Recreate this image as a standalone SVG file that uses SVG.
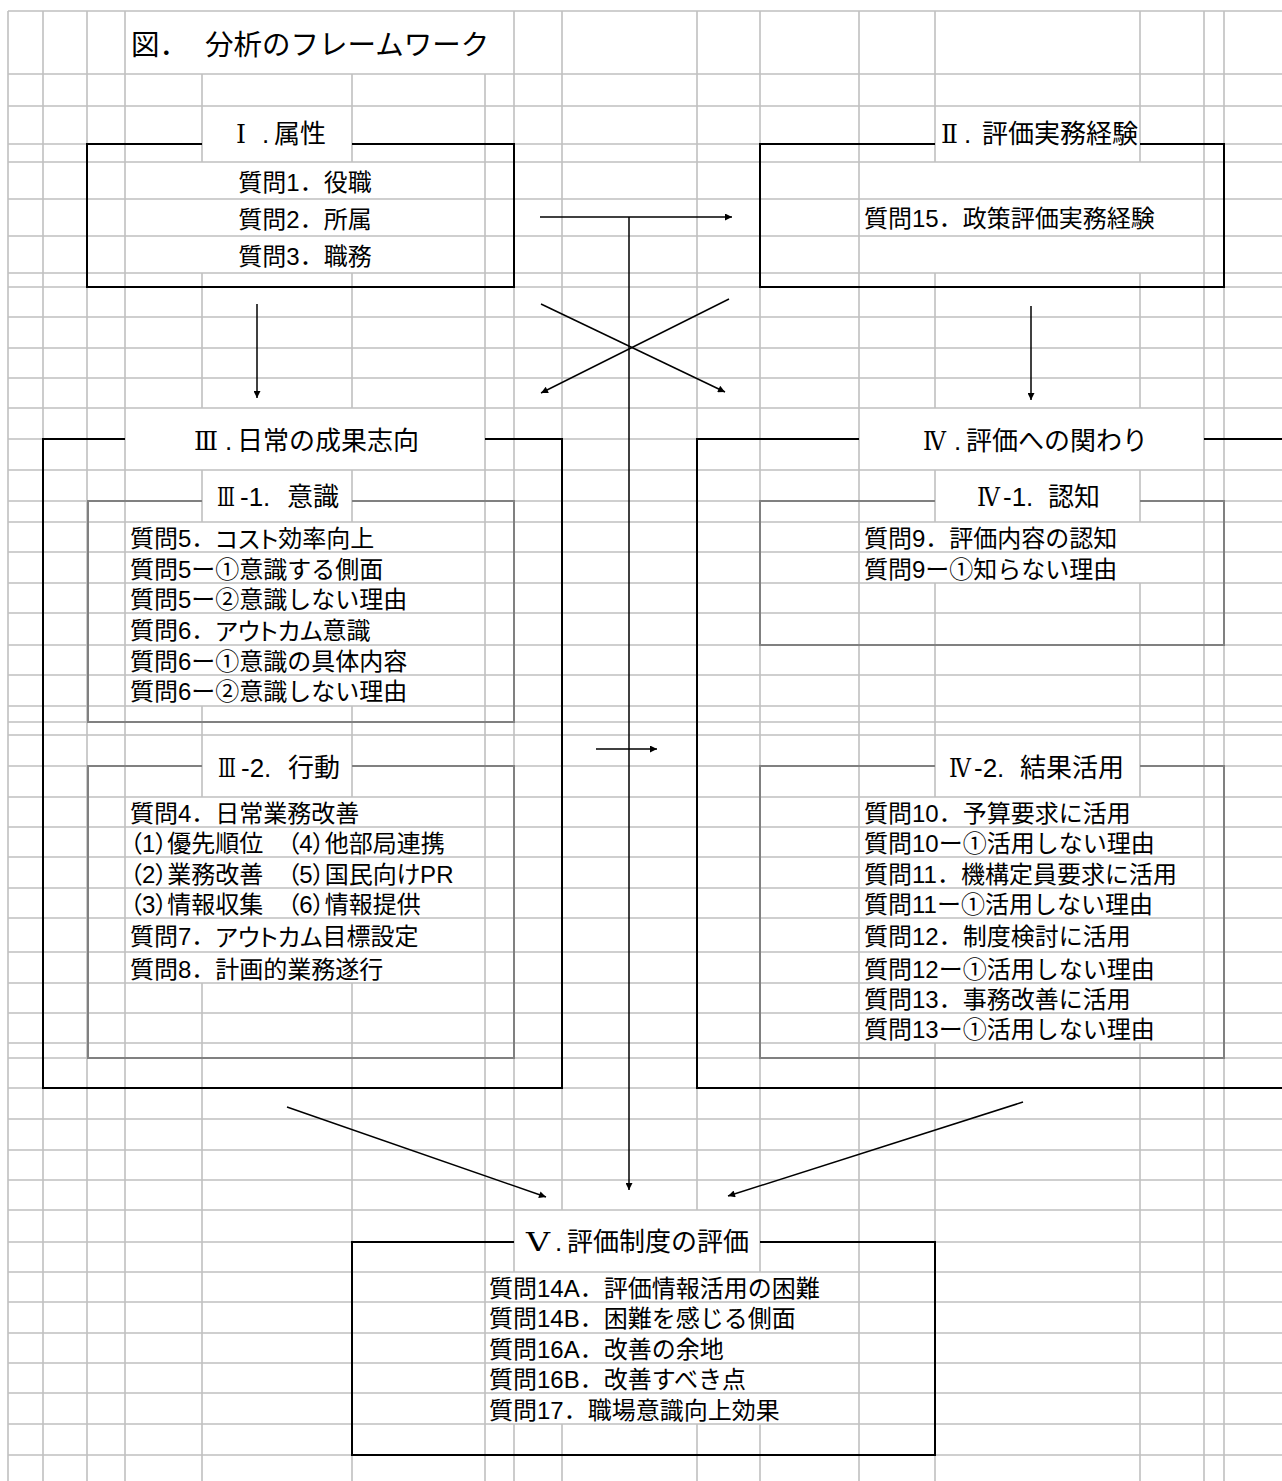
<svg xmlns="http://www.w3.org/2000/svg" width="1282" height="1481" viewBox="0 0 1282 1481">
<style>
text{font-family:"Liberation Sans","Noto Sans CJK JP",sans-serif;fill:#000}
.rn{font-family:"DejaVu Serif","Liberation Serif",serif}
.t{font-size:28.5px;dominant-baseline:central}
.lb{font-size:26px;dominant-baseline:central}
.it{font-size:24px;dominant-baseline:central}
.c{text-anchor:middle}
.p{font-feature-settings:"palt"}
.grid{stroke:#c0c0c0;stroke-width:1.6;fill:none}
.bk{stroke:#000;stroke-width:2;fill:none}
.gr{stroke:#808080;stroke-width:2;fill:none}
.cn{stroke:#000;stroke-width:1.5;fill:none;marker-end:url(#ah)}
</style>
<defs>
<marker id="ah" viewBox="0 0 10 10" refX="10" refY="5" markerWidth="10" markerHeight="7" markerUnits="userSpaceOnUse" orient="auto"><path d="M0,0 L10,5 L0,10 z" fill="#000"/></marker>
</defs>
<rect x="0" y="0" width="1282" height="1481" fill="#fff"/>
<g id="grid" class="grid">
<path d="M8,11V1481M43,11V1481M87,11V1481M125,11V1481
M202,74V162M202,273V408M202,470V522M202,706V797M202,983V1481
M352,74V162M352,273V408M352,470V522M352,706V797M352,983V1481
M485,74V1481
M514,11V1272M514,1424V1481
M562,11V1210M562,1424V1481
M697,11V1210M697,1424V1481
M760,11V1272M760,1424V1481
M859,11V1481
M935,11V162M935,273V408M935,470V522M935,583V797M935,1043V1481
M1140,11V162M1140,273V408M1140,470V522M1140,583V797M1140,1043V1481
M1204,11V1481M1224,11V1481"/>
<path d="M8,11H1282M8,74H1282M8,106H1282
M8,144H202M352,144H935M1140,144H1282
M8,162H1282M8,199H1282M8,236H1282M8,273H1282M8,287H1282M8,317H1282M8,348H1282M8,378H1282M8,408H1282
M8,439H125M485,439H859M1204,439H1282
M8,470H1282
M8,501H202M352,501H935M1140,501H1282
M8,522H1282M8,552H1282M8,583H1282M8,613H1282M8,645H1282M8,675H1282M8,706H1282M8,722H1282M8,735H1282
M8,766H202M352,766H935M1140,766H1282
M8,797H1282M8,827H1282M8,857H1282M8,888H1282M8,918H1282M8,952H1282M8,983H1282M8,1013H1282M8,1043H1282M8,1058H1282M8,1088H1282M8,1119H1282M8,1150H1282M8,1180H1282M8,1210H1282
M8,1242H514M760,1242H1282
M8,1272H1282M8,1302H1282M8,1333H1282M8,1363H1282M8,1393H1282M8,1424H1282M8,1455H1282"/>
</g>
<g id="title">
<text class="t" x="131" y="45">図．　<tspan x="205">分析のフレームワーク</tspan></text>
</g>
<g id="n1">
<path class="bk" d="M202,144H87V287H514V144H352"/>
<text class="lb rn" x="236" y="134" textLength="10" lengthAdjust="spacingAndGlyphs">Ⅰ</text>
<text class="lb" y="134"><tspan x="262">. </tspan><tspan x="274">属性</tspan></text>
<text class="it c" x="305" y="182">質問1．役職</text>
<text class="it c" x="305" y="219">質問2．所属</text>
<text class="it c" x="305" y="256">質問3．職務</text>
</g>
<g id="n2">
<path class="bk" d="M935,144H760V287H1224V144H1140"/>
<text class="lb rn" x="941" y="134" textLength="17" lengthAdjust="spacingAndGlyphs">Ⅱ</text>
<text class="lb" y="134"><tspan x="964">. </tspan><tspan x="982">評価実務経験</tspan></text>
<text class="it" x="864" y="218">質問15．政策評価実務経験</text>
</g>
<g id="n3">
<path class="bk" d="M125,439H43V1088H562V439H485"/>
<text class="lb rn" x="194" y="441" textLength="24" lengthAdjust="spacingAndGlyphs">Ⅲ</text>
<text class="lb" y="441"><tspan x="225">. </tspan><tspan x="237">日常の成果志向</tspan></text>
</g>
<g id="n3-1">
<path class="gr" d="M202,501H88V722H514V501H352"/>
<text class="lb rn" x="217" y="497" textLength="18" lengthAdjust="spacingAndGlyphs">Ⅲ</text>
<text class="lb" y="497"><tspan x="240">-1. </tspan><tspan x="287">意識</tspan></text>
<text class="it" x="130" y="538.5">質問5．<tspan class="p">コスト</tspan>効率向上</text>
<text class="it" x="130" y="569">質問5ー①意識する側面</text>
<text class="it" x="130" y="599.5">質問5ー②意識しない理由</text>
<text class="it" x="130" y="630.5">質問6．<tspan class="p">アウトカム</tspan>意識</text>
<text class="it" x="130" y="661">質問6ー①意識の具体内容</text>
<text class="it" x="130" y="691.5">質問6ー②意識しない理由</text>
</g>
<g id="n3-2">
<path class="gr" d="M202,766H88V1058H514V766H352"/>
<text class="lb rn" x="218" y="768" textLength="18" lengthAdjust="spacingAndGlyphs">Ⅲ</text>
<text class="lb" y="768"><tspan x="241">-2. </tspan><tspan x="288">行動</tspan></text>
<text class="it" x="130" y="813.5">質問4．日常業務改善</text>
<text class="it p" x="130" y="843.5">（1）優先順位　（4）他部局連携</text>
<text class="it p" x="130" y="874">（2）業務改善　（5）国民向けPR</text>
<text class="it p" x="130" y="904.5">（3）情報収集　（6）情報提供</text>
<text class="it" x="130" y="936.5">質問7．<tspan class="p">アウトカム</tspan>目標設定</text>
<text class="it" x="130" y="969">質問8．計画的業務遂行</text>
</g>
<g id="n4">
<path class="bk" d="M859,439H697V1088H1290M1204,439H1290"/>
<text class="lb rn" x="923" y="441" textLength="23" lengthAdjust="spacingAndGlyphs">Ⅳ</text>
<text class="lb" y="441"><tspan x="954">. </tspan><tspan x="966">評価への関わり</tspan></text>
</g>
<g id="n4-1">
<path class="gr" d="M935,501H760V645H1224V501H1140"/>
<text class="lb rn" x="977" y="497" textLength="23" lengthAdjust="spacingAndGlyphs">Ⅳ</text>
<text class="lb" y="497"><tspan x="1003">-1. </tspan><tspan x="1048">認知</tspan></text>
<text class="it" x="864" y="538.5">質問9．評価内容の認知</text>
<text class="it" x="864" y="569">質問9ー①知らない理由</text>
</g>
<g id="n4-2">
<path class="gr" d="M935,766H760V1058H1224V766H1140"/>
<text class="lb rn" x="949" y="768" textLength="22" lengthAdjust="spacingAndGlyphs">Ⅳ</text>
<text class="lb" y="768"><tspan x="974">-2. </tspan><tspan x="1020">結果活用</tspan></text>
<text class="it" x="864" y="813.5">質問10．予算要求に活用</text>
<text class="it" x="864" y="843.5">質問10ー①活用しない理由</text>
<text class="it" x="864" y="874">質問11．機構定員要求に活用</text>
<text class="it" x="864" y="904.5">質問11ー①活用しない理由</text>
<text class="it" x="864" y="936.5">質問12．制度検討に活用</text>
<text class="it" x="864" y="969">質問12ー①活用しない理由</text>
<text class="it" x="864" y="999.5">質問13．事務改善に活用</text>
<text class="it" x="864" y="1029.5">質問13ー①活用しない理由</text>
</g>
<g id="n5">
<path class="bk" d="M514,1242H352V1455H935V1242H760"/>
<text class="lb rn" x="526" y="1242" textLength="24" lengthAdjust="spacingAndGlyphs">Ⅴ</text>
<text class="lb" y="1242"><tspan x="555">. </tspan><tspan x="567">評価制度の評価</tspan></text>
<text class="it" x="489" y="1288">質問14A．評価情報活用の困難</text>
<text class="it" x="489" y="1318.5">質問14B．困難を感じる側面</text>
<text class="it" x="489" y="1349">質問16A．改善の余地</text>
<text class="it" x="489" y="1379">質問16B．改善すべき点</text>
<text class="it" x="489" y="1410">質問17．職場意識向上効果</text>
</g>
<g id="connectors">
<path class="cn" d="M540,217H732"/>
<path class="cn" d="M629,217V1190"/>
<path class="cn" d="M729,299L541,393"/>
<path class="cn" d="M541,304L725,392"/>
<path class="cn" d="M257,304V398"/>
<path class="cn" d="M1031,306V400"/>
<path class="cn" d="M596,749H657"/>
<path class="cn" d="M287,1107L546,1197"/>
<path class="cn" d="M1023,1102L728,1196"/>
</g>
</svg>
